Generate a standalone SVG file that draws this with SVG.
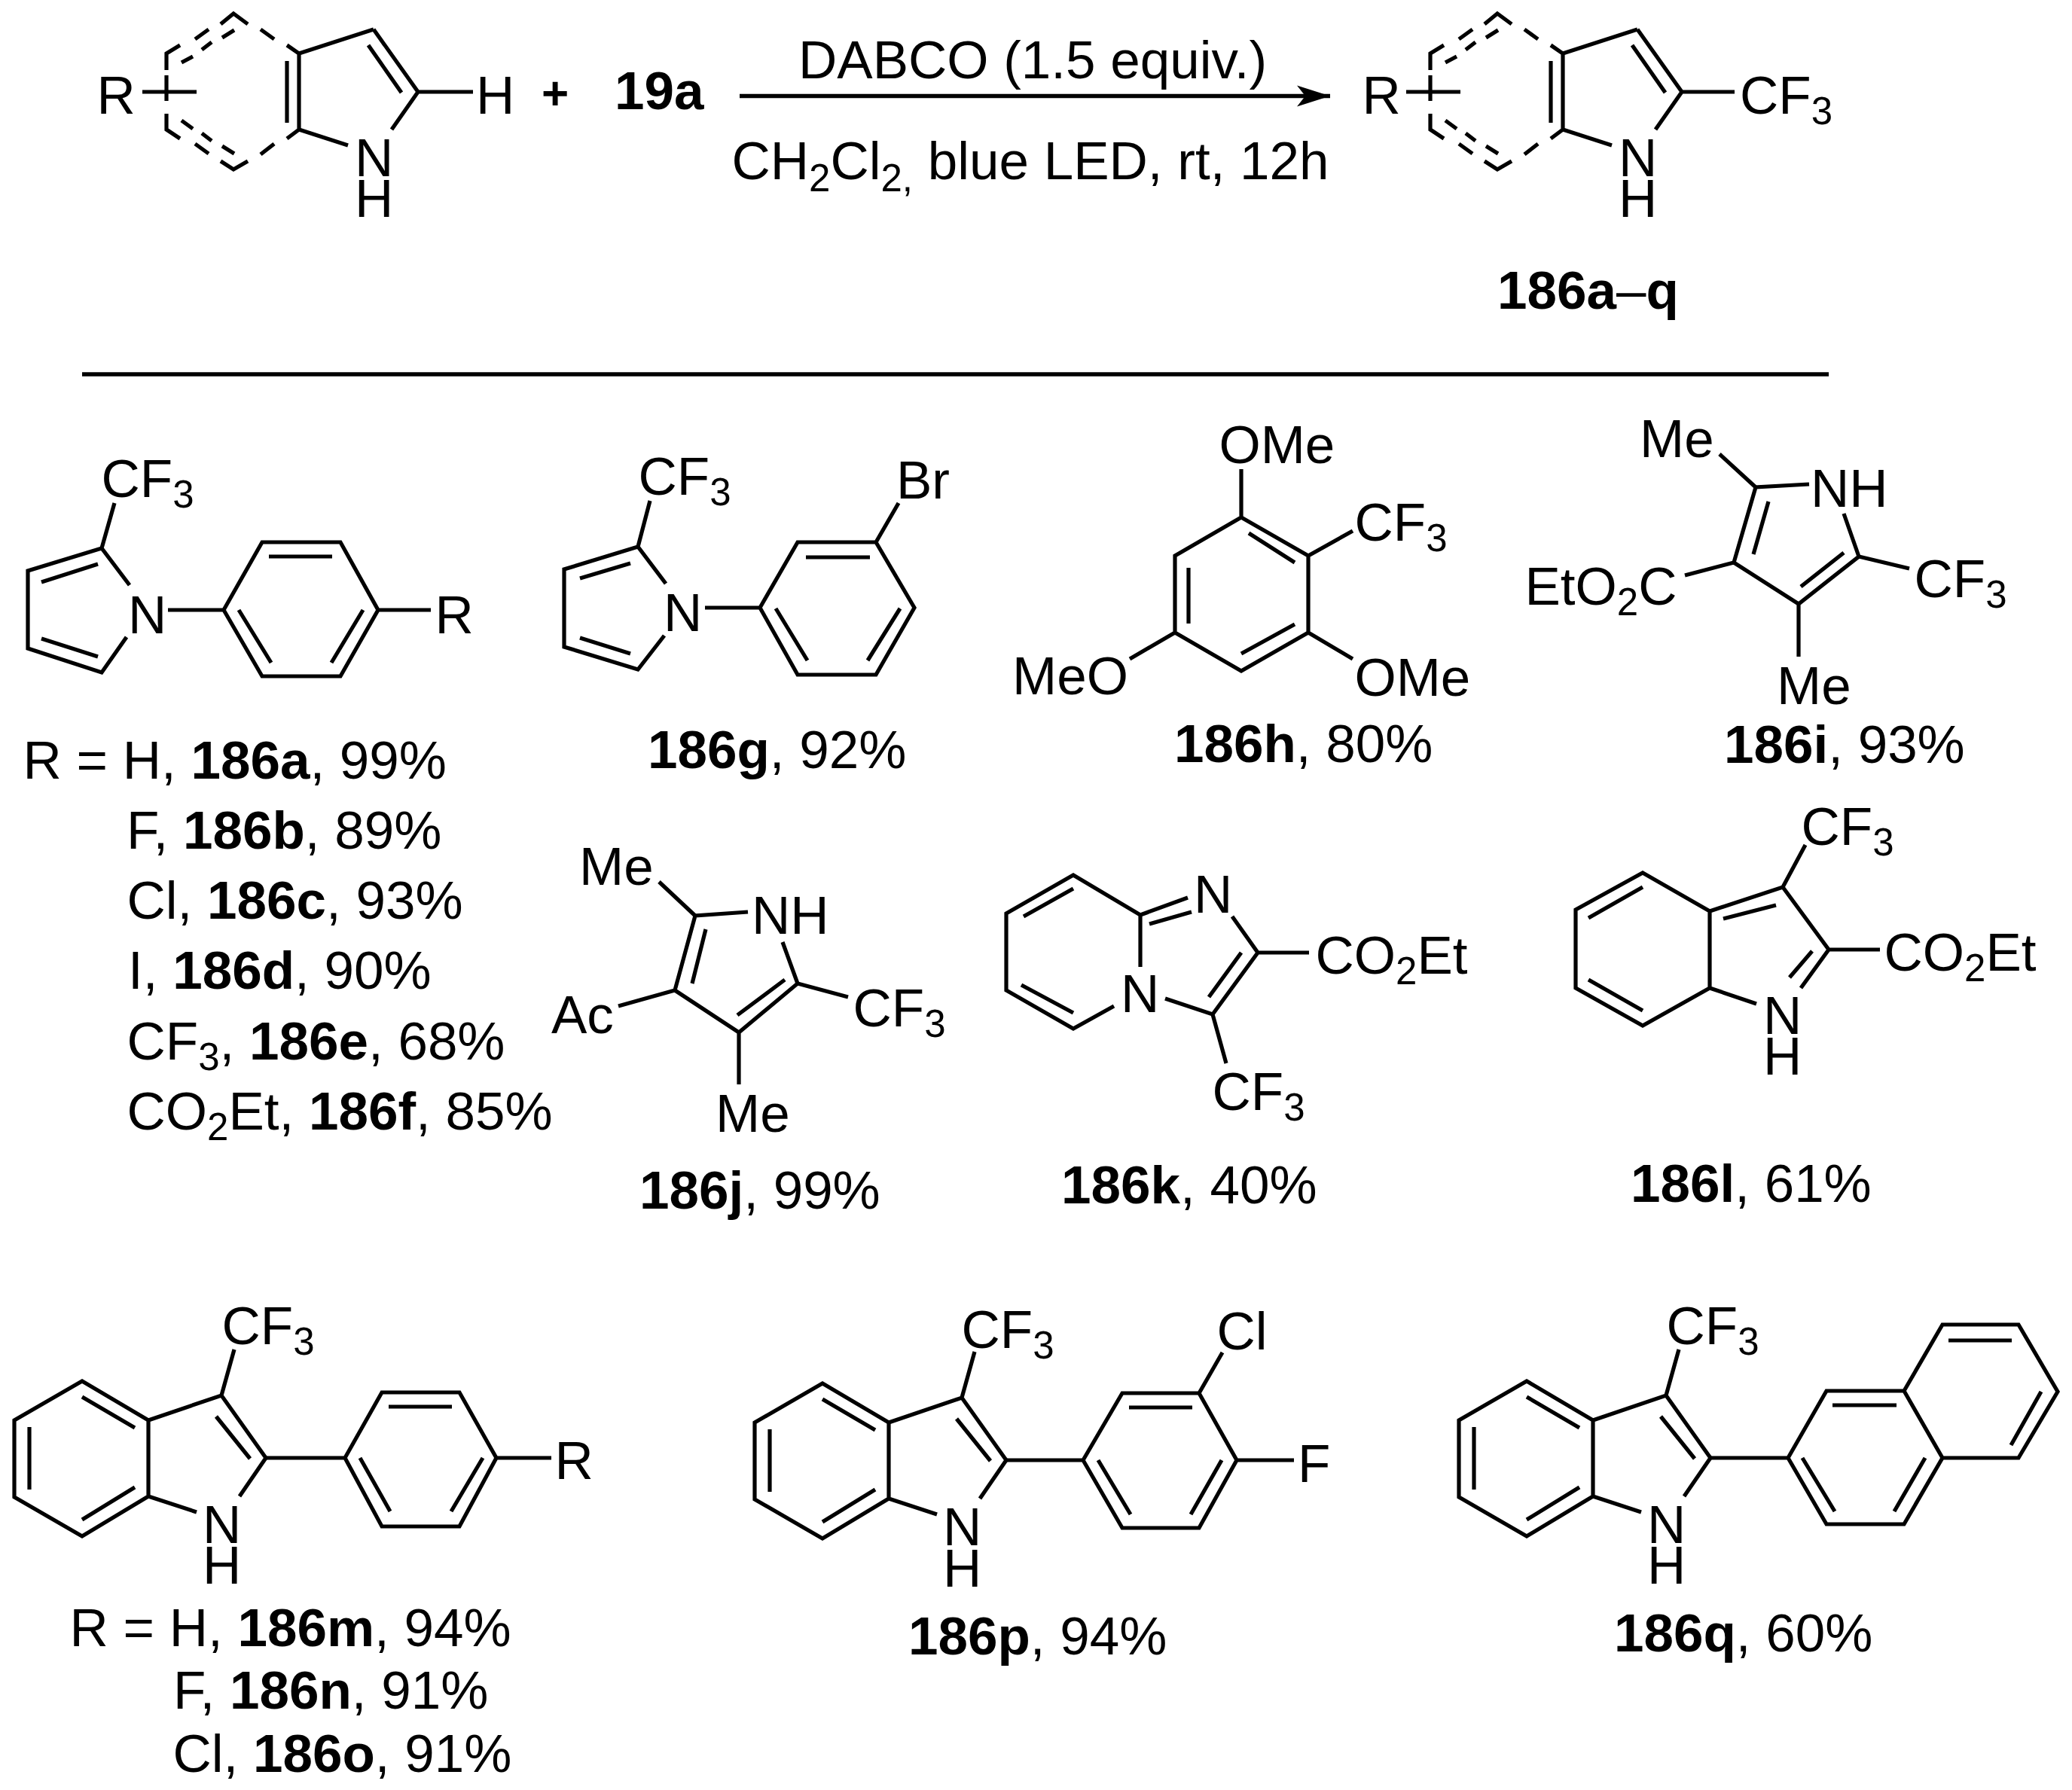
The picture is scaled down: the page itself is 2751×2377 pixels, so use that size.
<svg xmlns="http://www.w3.org/2000/svg" xmlns:xlink="http://www.w3.org/1999/xlink" width="2751" height="2377" viewBox="0 0 2751 2377">
<style>
text{font-family:"Liberation Sans",Arial,sans-serif;font-size:71px;fill:#000}
.b{font-weight:bold}
.r{font-weight:normal}
.s{font-size:51px}
.p{font-size:62px}
.bond{fill:none;stroke:#000;stroke-width:5.2;stroke-linejoin:miter;stroke-linecap:butt}
.rule{fill:none;stroke:#000;stroke-width:5.4}
</style>
<defs>
<marker id="head" markerUnits="userSpaceOnUse" markerWidth="48" markerHeight="30" refX="45" refY="15" orient="auto"><path d="M1 1L45 15L1 29L12 15Z" fill="#000"/></marker>
<g id="dashring"><path class="bond" d="M221 93V71L239 60M259 52L277 39M293 32L310 18L329 32M346 39L364 52M381 60L397 71V172L381 184M364 191L346 205M329 214L310 225L293 214M277 204L259 191M239 184L221 172V151M221 134V100M189 122H261M241 83L256 75M268 66L281 56M295 50L311 40M241 160L256 171M268 177L281 187M295 194L311 204M381 81V163M397 71L496 39"/><path class="bond" d="M397 172L462 193"/></g>
<g id="indole3"><path class="bond" d="M109 1834L197 1886V1987L109 2040L19 1988V1886ZM109 1855L179 1896M39 1895V1978M109 2018L179 1975M197 1886L294 1853L353 1936L318 1987M287 1881L332 1937M197 1987L261 2008M294 1853L311 1792"/></g>
</defs>
<rect width="2751" height="2377" fill="#fff"/>
<g id="connectors">
<path class="rule" d="M982 127.5H1766" marker-end="url(#head)"/>
<path class="rule" d="M109 497H2428"/>
</g>
<g id="reactant">
<use xlink:href="#dashring" href="#dashring"/>
<path class="bond" d="M496 39L555 122L520 172M489 60L533 123M555 122H628"/>
<text x="128.5" y="151">R</text><text x="632" y="151">H</text><text x="471" y="234">N</text><text x="471" y="288">H</text>
</g>
<g id="plus"><text class="b p" x="719" y="145">+</text></g>
<g id="reagent"><text class="b" x="816" y="145">19a</text></g>
<g id="conditions">
<text x="1060" y="104">DABCO (1.5 equiv.)</text>
<text x="971.5" y="238">CH<tspan class="s" dy="16">2</tspan><tspan dy="-16">Cl</tspan><tspan class="s" dy="16">2,</tspan><tspan dy="-16"> blue LED, rt, 12h</tspan></text>
</g>
<g id="product">
<use xlink:href="#dashring" href="#dashring" transform="translate(1678 0)"/>
<path class="bond" d="M2174 39L2233 122L2198 172M2167 60L2211 123M2233 122H2303"/>
<text x="1808.5" y="151">R</text><text x="2310" y="151">CF<tspan class="s" dy="14">3</tspan></text><text x="2149" y="234">N</text><text x="2149" y="288">H</text>
<text class="b" x="1988" y="410">186a<tspan class="r">–</tspan>q</text>
</g>
<g id="m186a">
<path class="bond" d="M172 777L135 728L37 758V861L135 893L168 846M55 773L130 749M55 848L130 872M135 728L152 668M223 810H297L348 720H452L502 810L452 898H348L297 810M357 739H441M317 810L360 880M482 810L440 880M502 810H572"/>
<text x="134.5" y="660">CF<tspan class="s" dy="14">3</tspan></text><text x="170" y="841">N</text><text x="577.5" y="841">R</text>
<text x="30.5" y="1034">R = H, <tspan class="b">186a</tspan>, 99%</text>
<text x="168" y="1127">F, <tspan class="b">186b</tspan>, 89%</text>
<text x="168.5" y="1220">Cl, <tspan class="b">186c</tspan>, 93%</text>
<text x="170" y="1313">I, <tspan class="b">186d</tspan>, 90%</text>
<text x="168.5" y="1407">CF<tspan class="s" dy="14">3</tspan><tspan dy="-14">, </tspan><tspan class="b">186e</tspan>, 68%</text>
<text x="168.5" y="1500">CO<tspan class="s" dy="14">2</tspan><tspan dy="-14">Et, </tspan><tspan class="b">186f</tspan>, 85%</text>
</g>
<g id="m186g">
<path class="bond" d="M884 775L847 726L749 756V859L847 889L882 844M770 768L837 748M770 847L837 868M847 726L863 665M936 807H1009L1059 720H1163L1214 807L1163 896H1059L1009 807M1070 740H1155M1030 808L1072 877M1195 808L1152 877M1163 720L1193 668"/>
<text x="847.5" y="657">CF<tspan class="s" dy="14">3</tspan></text><text x="881" y="838">N</text><text x="1190" y="662">Br</text>
<text x="860" y="1020"><tspan class="b">186g</tspan>, 92%</text>
</g>
<g id="m186h">
<path class="bond" d="M1648 687L1737 738V840L1648 891L1560 840V738ZM1658 708L1719 747M1578 754V828M1648 868L1719 829M1648 687V623M1737 738L1796 705M1737 840L1796 875M1560 840L1500 875"/>
<text x="1618.5" y="615">OMe</text><text x="1798.5" y="718">CF<tspan class="s" dy="14">3</tspan></text><text x="1798.5" y="924">OMe</text><text x="1344" y="922">MeO</text>
<text x="1559" y="1012"><tspan class="b">186h</tspan>, 80%</text>
</g>
<g id="m186i">
<path class="bond" d="M2402 643L2331 647L2302 747L2388 802L2468 739L2448 682M2348 666L2328 736M2391 779L2448 734M2331 647L2283 603M2468 739L2535 755M2302 747L2237 764M2388 802V872"/>
<text x="2177" y="607">Me</text><text x="2404" y="673">NH</text><text x="2541.5" y="793">CF<tspan class="s" dy="14">3</tspan></text>
<text x="2024.5" y="803">EtO<tspan class="s" dy="14">2</tspan><tspan dy="-14">C</tspan></text><text x="2359" y="935">Me</text>
<text x="2289" y="1013"><tspan class="b">186i</tspan>, 93%</text>
</g>
<g id="m186j">
<path class="bond" d="M993 1211L923 1216L896 1315L981 1371L1059 1306L1039 1251M937 1234L919 1306M979 1348L1042 1301M923 1216L875 1171M1059 1306L1126 1324M896 1315L821 1336M981 1371V1440"/>
<text x="769" y="1175">Me</text><text x="998" y="1240">NH</text><text x="1132.5" y="1363">CF<tspan class="s" dy="14">3</tspan></text><text x="732" y="1372">Ac</text><text x="950" y="1503">Me</text>
<text x="849" y="1605"><tspan class="b">186j</tspan>, 99%</text>
</g>
<g id="m186k">
<path class="bond" d="M1514 1284V1215L1425 1162L1336 1213V1315L1425 1366L1479 1336M1359 1217L1425 1180M1356 1308L1425 1345M1514 1215L1577 1192M1526 1227L1582 1211M1636 1217L1670 1265L1610 1347L1547 1326M1648 1265L1605 1324M1670 1265H1738M1610 1347L1628 1412"/>
<text x="1488" y="1344">N</text><text x="1585" y="1212">N</text><text x="1746.5" y="1293">CO<tspan class="s" dy="14">2</tspan><tspan dy="-14">Et</tspan></text><text x="1609.5" y="1474">CF<tspan class="s" dy="14">3</tspan></text>
<text x="1409" y="1598"><tspan class="b">186k</tspan>, 40%</text>
</g>
<g id="m186l">
<path class="bond" d="M2181 1159L2270 1210V1312L2181 1362L2092 1312V1208ZM2109 1219L2181 1178M2109 1301L2181 1342M2270 1210L2367 1178L2428 1261L2391 1312M2288 1220L2358 1202M2406 1263L2376 1298M2270 1312L2332 1333M2367 1178L2397 1122M2428 1261H2496"/>
<text x="2341" y="1373">N</text><text x="2341" y="1427">H</text><text x="2391.5" y="1122">CF<tspan class="s" dy="14">3</tspan></text><text x="2501.5" y="1289">CO<tspan class="s" dy="14">2</tspan><tspan dy="-14">Et</tspan></text>
<text x="2165" y="1596"><tspan class="b">186l</tspan>, 61%</text>
</g>
<g id="m186m">
<use xlink:href="#indole3" href="#indole3"/>
<path class="bond" d="M353 1936H458L507 1849H610L659 1936L610 2027H507L458 1936M516 1868H600M478 1936L518 2007M641 1936L599 2007M659 1936H732"/>
<text x="294.5" y="1785">CF<tspan class="s" dy="14">3</tspan></text><text x="269" y="2049">N</text><text x="269" y="2103">H</text><text x="736.5" y="1964">R</text>
<text x="92.5" y="2186">R = H, <tspan class="b">186m</tspan>, 94%</text>
<text x="230" y="2269">F, <tspan class="b">186n</tspan>, 91%</text>
<text x="229.5" y="2353">Cl, <tspan class="b">186o</tspan>, 91%</text>
</g>
<g id="m186p">
<use xlink:href="#indole3" href="#indole3" transform="translate(983 3)"/>
<path class="bond" d="M1336 1939H1438L1490 1850H1592L1642 1939L1592 2029H1490L1438 1939M1499 1869H1583M1458 1939L1501 2011M1622 1939L1581 2011M1592 1850L1623 1796M1642 1939H1718"/>
<text x="1276.5" y="1790">CF<tspan class="s" dy="14">3</tspan></text><text x="1252" y="2052">N</text><text x="1252" y="2107">H</text><text x="1615.5" y="1792">Cl</text><text x="1723" y="1968">F</text>
<text x="1206" y="2197"><tspan class="b">186p</tspan>, 94%</text>
</g>
<g id="m186q">
<use xlink:href="#indole3" href="#indole3" transform="translate(1918 0)"/>
<path class="bond" d="M2271 1936H2374L2425 1847H2528L2579 1936L2528 2024H2425L2374 1936M2433 1866H2518M2393 1936L2436 2007M2556 1936L2515 2007M2528 1847L2579 1759H2680L2732 1848L2680 1936H2579M2587 1780H2671M2710 1848L2670 1919"/>
<text x="2212.5" y="1785">CF<tspan class="s" dy="14">3</tspan></text><text x="2187" y="2049">N</text><text x="2187" y="2103">H</text>
<text x="2143" y="2193"><tspan class="b">186q</tspan>, 60%</text>
</g>
</svg>
